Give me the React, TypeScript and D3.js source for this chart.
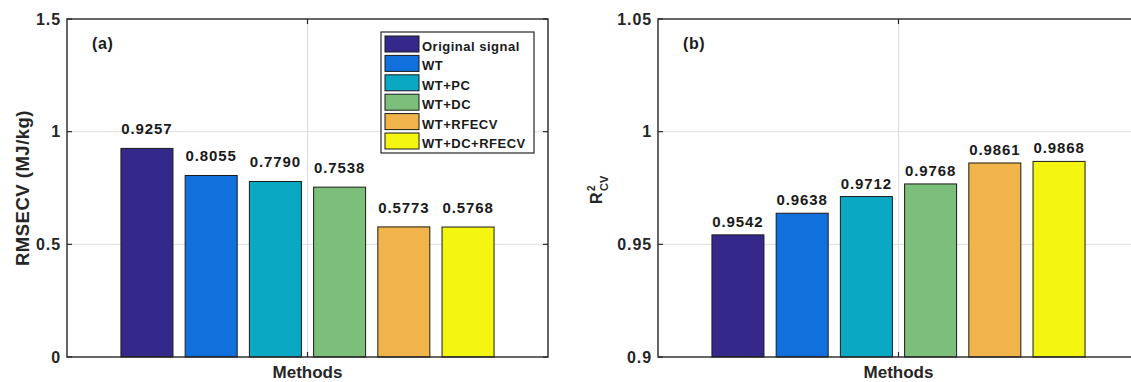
import React from 'react';
import * as d3 from 'd3';

// Data
const methods = ['Original signal', 'WT', 'WT+PC', 'WT+DC', 'WT+RFECV', 'WT+DC+RFECV'];
const rmsecv = [0.9257, 0.8055, 0.779, 0.7538, 0.5773, 0.5768];
const r2cv = [0.9542, 0.9638, 0.9712, 0.9768, 0.9861, 0.9868];
const barColors = ['#34288a', '#1170dc', '#0ba8c4', '#7cbf7a', '#f0b44b', '#f5f512'];
const rmsecvTicks = [0, 0.5, 1, 1.5];
const r2cvTicks = [0.9, 0.95, 1, 1.05];

const W = 1131;
const H = 382;
const top = 19;
const bottom = 357;
const plotW = 481;
const axisColor = '#262626';
const font = '"Liberation Sans", Arial, Helvetica, sans-serif';

type PanelProps = {
  left: number;
  values: number[];
  domain: [number, number];
  ticks: number[];
  labelGap: number;
  tag: string;
  yLabel: React.ReactNode;
  legend?: boolean;
};

function Panel({ left, values, domain, ticks, labelGap, tag, yLabel, legend }: PanelProps) {
  const right = left + plotW;
  const x = d3.scaleBand<string>()
    .domain(methods)
    .range([left, right])
    .paddingInner(0.19)
    .paddingOuter(0.84);
  const y = d3.scaleLinear().domain(domain).range([bottom, top]);
  const cx = (left + right) / 2;
  const tickLen = 5;

  return (
    <g>
      {/* grid */}
      {ticks.slice(1, -1).map(t => (
        <line key={'g' + t} x1={left} x2={right} y1={y(t)} y2={y(t)} stroke="#dedede" strokeWidth={1} />
      ))}
      <line x1={cx} x2={cx} y1={top} y2={bottom} stroke="#dedede" strokeWidth={1} />

      {/* bars */}
      {methods.map((m, i) => (
        <rect key={m} x={x(m)} y={y(values[i])} width={x.bandwidth()} height={bottom - y(values[i])}
          fill={barColors[i]} stroke="#1a1a1a" strokeWidth={1} />
      ))}
      {methods.map((m, i) => (
        <text key={'v' + m} x={(x(m) as number) + x.bandwidth() / 2} y={y(values[i]) - labelGap}
          textAnchor="middle" fontFamily={font} fontWeight="bold" fontSize={15} letterSpacing={0.9}
          fill="#1a1a1a">{values[i].toFixed(4)}</text>
      ))}

      {/* box */}
      <rect x={left} y={top} width={plotW} height={bottom - top} fill="none" stroke={axisColor} strokeWidth={1.4} />
      {ticks.map(t => (
        <g key={'t' + t}>
          <line x1={left} x2={left + tickLen} y1={y(t)} y2={y(t)} stroke={axisColor} strokeWidth={1.2} />
          <line x1={right} x2={right - tickLen} y1={y(t)} y2={y(t)} stroke={axisColor} strokeWidth={1.2} />
          <text x={left - 6} y={y(t)} dy="0.36em" textAnchor="end" fontFamily={font} fontWeight="bold"
            fontSize={16} letterSpacing={0.9} fill="#262626">{String(t)}</text>
        </g>
      ))}
      <line x1={cx} x2={cx} y1={bottom} y2={bottom - tickLen} stroke={axisColor} strokeWidth={1.2} />
      <line x1={cx} x2={cx} y1={top} y2={top + tickLen} stroke={axisColor} strokeWidth={1.2} />

      <text x={cx} y={378} textAnchor="middle" fontFamily={font} fontWeight="bold" fontSize={17}
        fill="#262626">Methods</text>
      <text x={left + 25} y={49} fontFamily={font} fontWeight="bold" fontSize={16} letterSpacing={0.6}
        fill="#1a1a1a">{tag}</text>
      {yLabel}

      {legend && (
        <g>
          <rect x={381} y={32} width={153} height={121} fill="#fff" stroke={axisColor} strokeWidth={1.2} />
          {methods.map((m, i) => {
            const ry = 36 + i * 19.4;
            return (
              <g key={'l' + m}>
                <rect x={385} y={ry} width={34} height={16} fill={barColors[i]} stroke="#1a1a1a" strokeWidth={1} />
                <text x={422} y={ry + 15} fontFamily={font} fontWeight="bold" fontSize={13} letterSpacing={0.5}
                  fill="#1a1a1a">{m}</text>
              </g>
            );
          })}
        </g>
      )}
    </g>
  );
}

export default function App() {
  const midY = (top + bottom) / 2;
  const leftLabel = (
    <text transform={`translate(29,${midY}) rotate(-90)`} textAnchor="middle" fontFamily={font}
      fontWeight="bold" fontSize={18.5} letterSpacing={0.5} fill="#262626">RMSECV (MJ/kg)</text>
  );
  const rightLabel = (
    <g transform={`translate(602,${midY}) rotate(-90)`} fontFamily={font} fontWeight="bold" fill="#262626">
      <text x={-16} y={0} fontSize={16}>R</text>
      <text x={-3} y={-7} fontSize={10}>2</text>
      <text x={-3} y={6} fontSize={11}>CV</text>
    </g>
  );

  return (
    <svg width={W} height={H} style={{ position: 'absolute', left: 0, top: 0, background: '#fff' }}>
      <rect width={W} height={H} fill="#fff" />
      <Panel left={67} values={rmsecv} domain={[0, 1.5]} ticks={rmsecvTicks} labelGap={14}
        tag="(a)" yLabel={leftLabel} legend />
      <Panel left={658} values={r2cv} domain={[0.9, 1.05]} ticks={r2cvTicks} labelGap={8}
        tag="(b)" yLabel={rightLabel} />
    </svg>
  );
}
